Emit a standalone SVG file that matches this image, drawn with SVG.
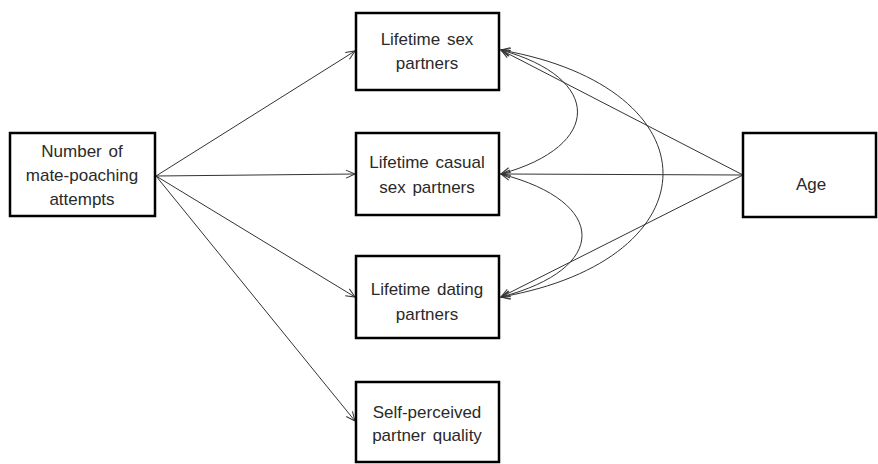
<svg xmlns="http://www.w3.org/2000/svg" width="878" height="464" viewBox="0 0 878 464">
<style>
.box{fill:#fff;stroke:#000;stroke-width:2.5}
.t{font-family:"Liberation Sans",Arial,sans-serif;font-size:17px;fill:#2a2a2a;text-anchor:middle;word-spacing:2px}
.c{fill:none;stroke:#333;stroke-width:1}
</style>
<defs>
<marker id="ah" markerUnits="userSpaceOnUse" markerWidth="12" markerHeight="12" refX="10" refY="5" orient="auto-start-reverse" viewBox="0 0 12 10">
<path d="M1,1 L10,5 L1,9" fill="none" stroke="#333" stroke-width="1"/>
</marker>
</defs>
<rect width="878" height="464" fill="#fff"/>
<g id="connectors">
<line class="c" x1="156" y1="176" x2="355" y2="51" marker-end="url(#ah)"/>
<line class="c" x1="156" y1="176" x2="355" y2="174" marker-end="url(#ah)"/>
<line class="c" x1="156" y1="176" x2="355" y2="297" marker-end="url(#ah)"/>
<line class="c" x1="156" y1="176" x2="355" y2="421" marker-end="url(#ah)"/>
<line class="c" x1="743" y1="175" x2="501" y2="50" marker-end="url(#ah)"/>
<line class="c" x1="743" y1="175" x2="501" y2="174" marker-end="url(#ah)"/>
<line class="c" x1="743" y1="175" x2="501" y2="297" marker-end="url(#ah)"/>
<path class="c" d="M501,50 C603,78 603,146 501,174" marker-start="url(#ah)" marker-end="url(#ah)"/>
<path class="c" d="M501,174 C609,202 609,269 501,297" marker-start="url(#ah)" marker-end="url(#ah)"/>
<path class="c" d="M501,50 C717,88 717,259 501,297" marker-start="url(#ah)" marker-end="url(#ah)"/>
</g>
<g id="n_attempts">
<rect class="box" x="10" y="133" width="145" height="83"/>
<text class="t" x="82" y="157">Number of</text>
<text class="t" x="82" y="181">mate-poaching</text>
<text class="t" x="82" y="205">attempts</text>
</g>
<g id="n_sex">
<rect class="box" x="356" y="13" width="143" height="77"/>
<text class="t" x="427" y="45">Lifetime sex</text>
<text class="t" x="427" y="69">partners</text>
</g>
<g id="n_casual">
<rect class="box" x="356" y="133" width="143" height="82"/>
<text class="t" x="427" y="168">Lifetime casual</text>
<text class="t" x="427" y="193">sex partners</text>
</g>
<g id="n_dating">
<rect class="box" x="356" y="256" width="143" height="82"/>
<text class="t" x="427" y="295">Lifetime dating</text>
<text class="t" x="427" y="320">partners</text>
</g>
<g id="n_quality">
<rect class="box" x="356" y="382" width="143" height="80"/>
<text class="t" x="427" y="418">Self-perceived</text>
<text class="t" x="427" y="441">partner quality</text>
</g>
<g id="n_age">
<rect class="box" x="743" y="133" width="133" height="84"/>
<text class="t" x="811" y="190">Age</text>
</g>
</svg>
